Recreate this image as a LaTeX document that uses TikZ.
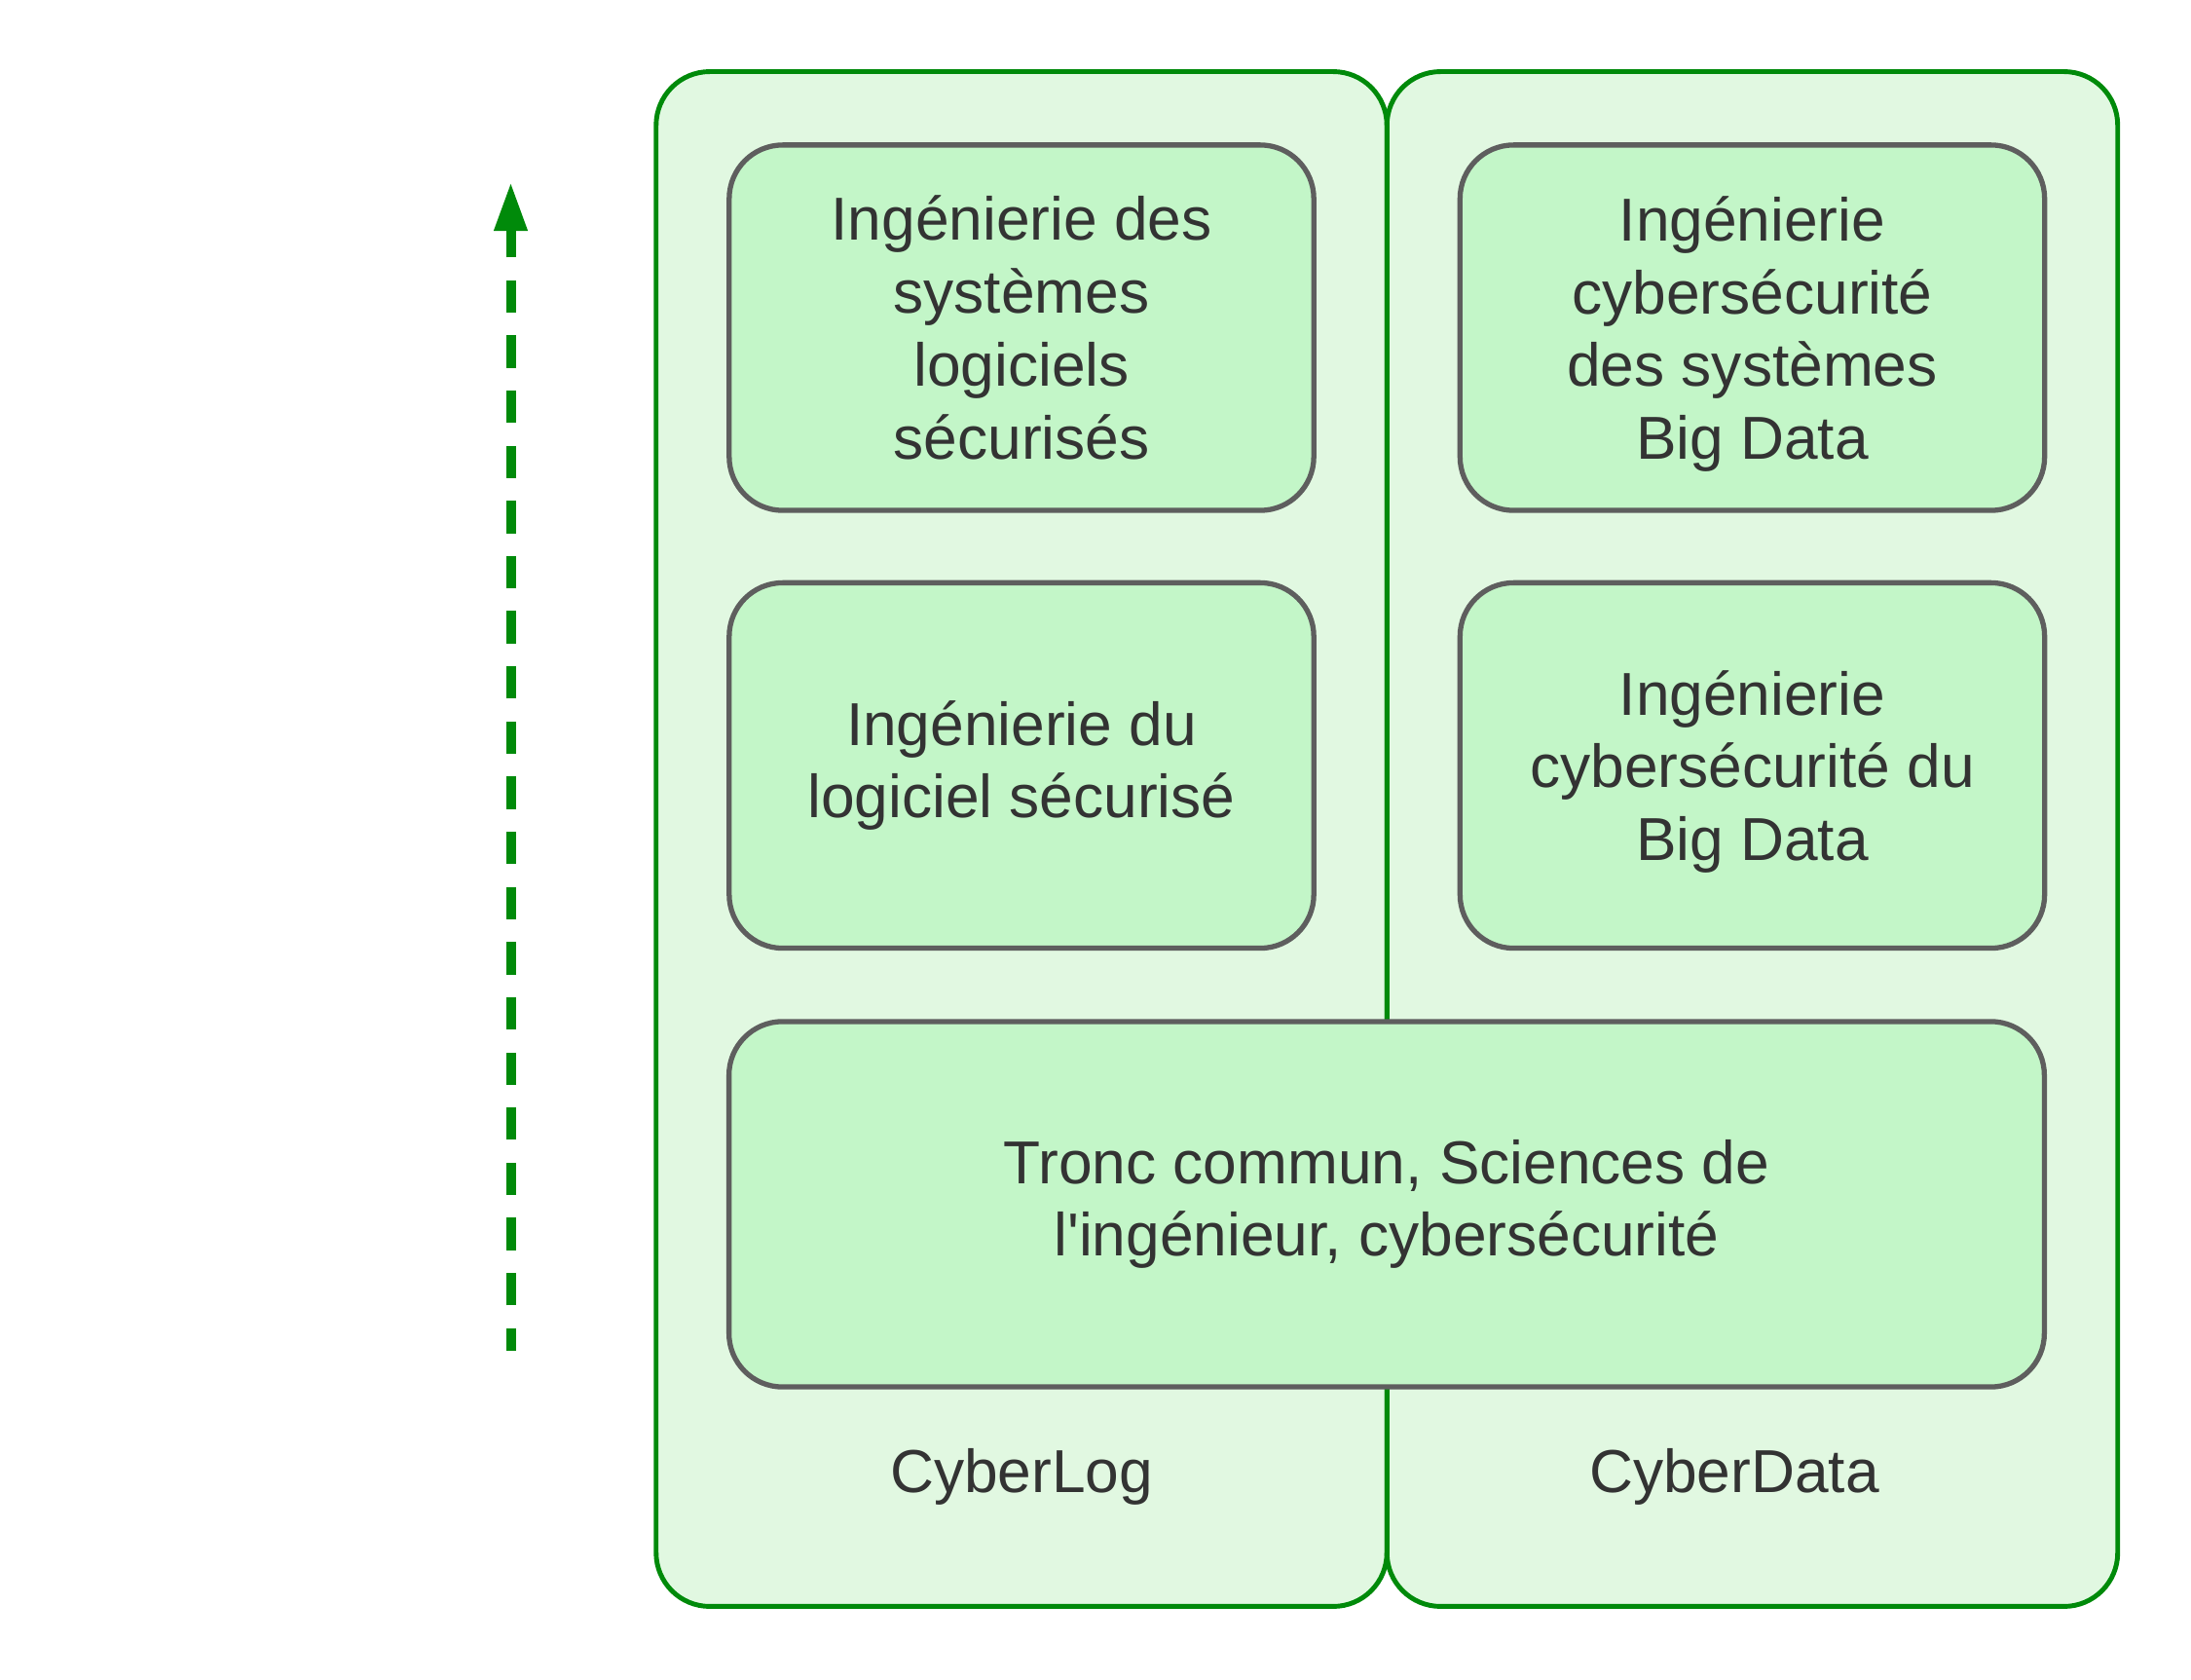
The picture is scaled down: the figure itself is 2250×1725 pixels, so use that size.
\documentclass[tikz,border=0pt]{standalone}
\usepackage{fontspec}
\setmainfont{Liberation Sans}
\usetikzlibrary{arrows.meta}
\definecolor{contfill}{HTML}{E1F8E1}
\definecolor{contdraw}{HTML}{008A0A}
\definecolor{boxfill}{HTML}{C3F6C8}
\definecolor{boxdraw}{HTML}{5E5E5E}
\definecolor{txt}{HTML}{333333}
\begin{document}
\begin{tikzpicture}[x=0.01cm,y=-0.01cm,
  container/.style={draw=contdraw, fill=contfill, line width=1.4pt, rounded corners=0.55cm, inner sep=0pt, minimum width=7.5cm, minimum height=15.75cm},
  module/.style={draw=boxdraw, fill=boxfill, line width=1.5pt, rounded corners=0.55cm, align=center, text=txt, inner sep=0pt, minimum height=3.75cm,
    font=\fontsize{17.7}{21.26}\selectfont},
  lbl/.style={text=txt, inner sep=0pt, anchor=base, font=\fontsize{17.7}{21.26}\selectfont},
  levelarrow/.style={draw=contdraw, line width=0.1cm, dash pattern=on 0.333cm off 0.233cm, dash phase=0.1cm, -{Triangle[length=0.5cm,width=0.32cm]}}]
\useasboundingbox (0,0) rectangle (2250,1725);
\node[container] (log) at (1049,861.5) {};
\node[container] (data) at (1799.5,861.5) {};
\node[module, minimum width=6cm] (sys) at (1049,336.5) {Ingénierie des\\systèmes\\logiciels\\sécurisés};
\node[module, minimum width=6cm] (lg) at (1049,786) {Ingénierie du\\logiciel sécurisé};
\node[module, minimum width=6cm, text depth=0pt] (bds) at (1799.5,336.5) {Ingénierie\\cybersécurité\\des systèmes\\Big Data};
\node[module, minimum width=6cm, text depth=0pt] (bd) at (1799.5,786) {Ingénierie\\cybersécurité du\\Big Data};
\node[module, minimum width=13.5cm] (tc) at (1424,1236.5) {Tronc commun, Sciences de\\l\textquotesingle ingénieur, cybersécurité};
\node[lbl] (lablog) at (1049,1533) {CyberLog};
\node[lbl] (labdata) at (1781,1533) {CyberData};
\coordinate (arrS) at (524.5,1387);
\coordinate (arrE) at (524.5,187);
\draw[levelarrow] (arrS) -- (arrE);
\end{tikzpicture}
\end{document}
